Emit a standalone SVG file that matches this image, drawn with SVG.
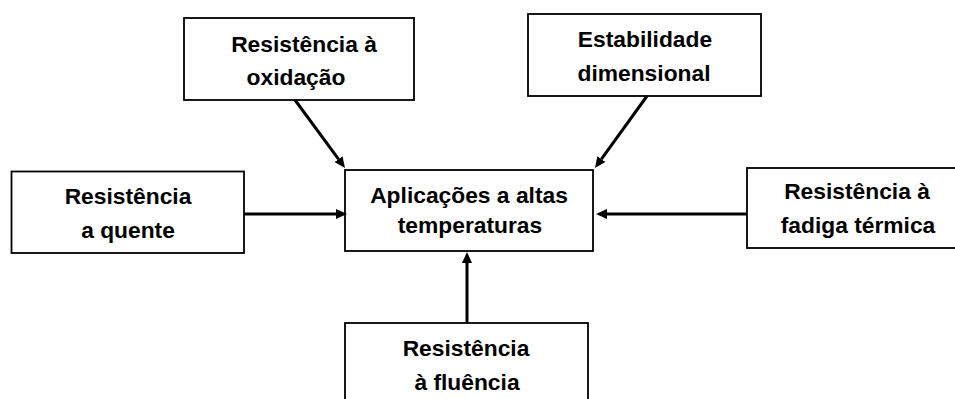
<svg xmlns="http://www.w3.org/2000/svg" width="955" height="399" viewBox="0 0 955 399">
  <style>
    .box { fill: #ffffff; stroke: #000000; stroke-width: 1.8; }
    .lbl { font-family: "Liberation Sans", Arial, sans-serif; font-weight: bold; font-size: 22.8px; fill: #000000; text-anchor: middle; }
    .conn { stroke: #000000; stroke-width: 3; fill: none; marker-end: url(#arrow); }
  </style>
  <defs>
    <marker id="arrow" markerUnits="userSpaceOnUse" viewBox="0 -6 12 12" markerWidth="12" markerHeight="12" refX="0" refY="0" orient="auto">
      <path d="M0,-5 L11,0 L0,5 z" fill="#000000"/>
    </marker>
  </defs>
  <rect width="955" height="399" fill="#ffffff"/>

  <g id="node-oxidacao">
    <rect class="box" x="184" y="18" width="230" height="82"/>
    <text class="lbl" x="304" y="52">Resistência à</text>
    <text class="lbl" x="296" y="85">oxidação</text>
  </g>

  <g id="node-estabilidade">
    <rect class="box" x="528" y="14" width="233" height="82"/>
    <text class="lbl" x="645" y="47">Estabilidade</text>
    <text class="lbl" x="644" y="81">dimensional</text>
  </g>

  <g id="node-quente">
    <rect class="box" x="11.5" y="171.5" width="232.5" height="81.5"/>
    <text class="lbl" x="128" y="204">Resistência</text>
    <text class="lbl" x="128" y="238">a quente</text>
  </g>

  <g id="node-central">
    <rect class="box" x="345" y="170" width="248" height="81"/>
    <text class="lbl" x="469" y="203">Aplicações a altas</text>
    <text class="lbl" x="470" y="233">temperaturas</text>
  </g>

  <g id="node-fadiga">
    <rect class="box" x="747" y="168" width="220" height="80"/>
    <text class="lbl" x="857" y="199">Resistência à</text>
    <text class="lbl" x="858" y="233">fadiga térmica</text>
  </g>

  <g id="node-fluencia">
    <rect class="box" x="345" y="323" width="243" height="90"/>
    <text class="lbl" x="466" y="356">Resistência</text>
    <text class="lbl" x="467" y="390">à fluência</text>
  </g>

  <g id="connectors">
    <line class="conn" x1="244" y1="214" x2="336" y2="214"/>
    <line class="conn" x1="295" y1="100" x2="338.5" y2="159.1"/>
    <line class="conn" x1="647" y1="96" x2="601.4" y2="159.1"/>
    <line class="conn" x1="747" y1="214" x2="607" y2="214"/>
    <line class="conn" x1="467" y1="323" x2="467" y2="263"/>
  </g>
</svg>
